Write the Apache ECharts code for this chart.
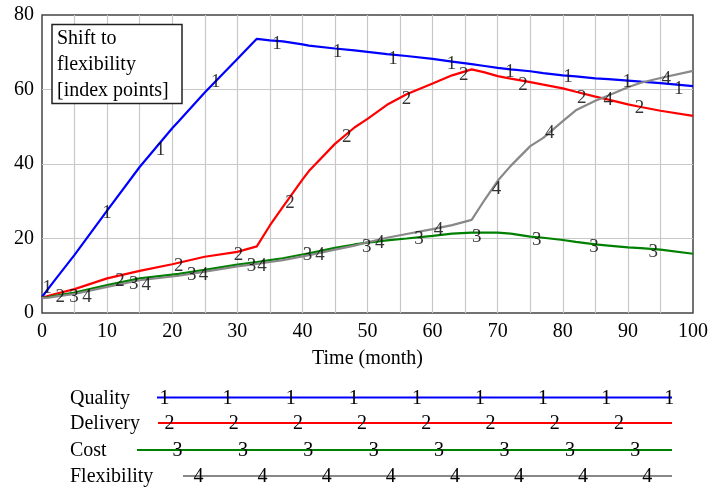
<!DOCTYPE html>
<html>
<head>
<meta charset="utf-8">
<script src="https://cdn.jsdelivr.net/npm/echarts@6/dist/echarts.min.js"></script>
<style>html,body{margin:0;padding:0;background:#fff;}#c{width:711px;height:489px;}</style>
</head>
<body>
<div id="c"></div>
<script>
// ---- data ----
var months = [0,1,2,5,10,15,20,21,25,30,33,35,37,40,41,45,48,50,53,56,60,63,66,68,70,72,75,77,80,82,85,87,90,92,95,100];
var quality = [4.3,6.6,8.9,15.6,27.5,39.2,49.6,51.5,59.2,68.2,73.6,73.2,72.9,72.1,71.8,71.0,70.5,70.1,69.5,69.0,68.2,67.5,66.8,66.3,65.8,65.4,64.9,64.4,63.8,63.5,63.0,62.8,62.4,62.1,61.7,60.9];
var delivery = [4.1,4.6,5.1,6.4,9.3,11.3,13.1,13.5,15.1,16.4,17.9,23.5,28.5,35.8,38.1,45.4,49.8,52.1,55.9,58.7,61.6,63.8,65.4,64.6,63.6,62.9,62.0,61.3,60.3,59.4,58.1,57.3,56.0,55.3,54.3,52.9];
var cost = [4.1,4.3,4.6,5.5,7.5,9.3,10.3,10.5,11.6,13.0,13.7,14.2,14.7,15.7,16.0,17.5,18.4,18.9,19.5,20.0,20.7,21.3,21.6,21.6,21.6,21.3,20.5,20.2,19.6,19.1,18.4,18.1,17.6,17.4,17.0,15.9];
var flexibility = [4.0,4.1,4.4,5.1,7.0,8.8,9.8,10.0,11.1,12.5,13.2,13.7,14.2,15.2,15.5,17.0,18.1,19.0,20.2,21.2,22.5,23.6,25.0,30.4,35.5,39.5,44.8,47.0,51.5,54.4,57.0,58.4,60.6,61.8,63.1,65.0];

// number markers drawn on the lines: [month, value]
var qualityMarks = [[0.8,6.7],[10.0,26.8],[18.2,43.7],[26.7,61.9],[36.1,72.2],[45.4,70.0],[53.9,68.2],[62.9,66.9],[71.9,64.6],[80.8,63.3],[89.9,62.0],[97.8,60.2]];
var deliveryMarks = [[2.8,4.4],[12.0,8.5],[21.0,12.5],[30.2,15.6],[38.1,29.4],[46.8,47.3],[56.0,57.5],[64.8,63.8],[73.9,61.1],[82.9,57.8],[91.8,55.1]];
var costMarks = [[4.9,4.4],[14.1,7.8],[23.0,10.2],[32.2,12.5],[40.8,15.6],[49.9,17.6],[57.9,19.8],[66.8,20.5],[76.0,19.6],[84.8,17.7],[93.9,16.5]];
var flexibilityMarks = [[6.9,4.4],[16.0,7.6],[24.8,10.2],[33.8,12.5],[42.7,15.6],[51.9,18.7],[60.9,22.3],[69.8,33.4],[78.0,48.2],[87.0,57.1],[95.9,62.9]];

var seriesNames = ['Quality','Delivery','Cost','Flexibility'];
var seriesIds = ['1','2','3','4'];
var xTicks = [0,10,20,30,40,50,60,70,80,90,100];
var yTicks = [0,20,40,60,80];
var boxTitle = 'Shift to\nflexibility\n[index points]';
var xTitle = 'Time (month)';

// ---- chart ----
var FONT = '"Liberation Serif","Times New Roman",serif';
var colors = ['#0000ff','#ff0000','#008000','#888888'];
var values = [quality, delivery, cost, flexibility];
var marks = [qualityMarks, deliveryMarks, costMarks, flexibilityMarks];

function pairs(xs, ys){ return xs.map(function(x,i){ return [x, ys[i]]; }); }

var series = [];
values.forEach(function(v, i){
  series.push({
    type:'line', name: seriesNames[i], data: pairs(months, v),
    showSymbol:false, symbol:'none', silent:true, animation:false,
    lineStyle:{color: colors[i], width: 2.2}, z: 2 + i
  });
});
marks.forEach(function(m, i){
  series.push({
    type:'scatter', data: m, symbolSize: 1, silent:true, animation:false,
    itemStyle:{color:'rgba(0,0,0,0)'}, z: 10,
    label:{show:true, position:'inside', formatter: seriesIds[i], color:'#000',
      fontFamily: FONT, fontSize: 19, align:'center', verticalAlign:'middle'}
  });
});

// legend rows drawn as graphics
var graphics = [];
var legendRows = [
  {y:397.5, x0:157, first:164.5, step:63.1, n:9},
  {y:423,   x0:158, first:169.5, step:64.2, n:8},
  {y:450,   x0:137, first:177.5, step:65.4, n:8},
  {y:476,   x0:183, first:198.5, step:64.1, n:8}
];
legendRows.forEach(function(r, i){
  graphics.push({type:'text', silent:true, x:70, y:r.y + 1,
    style:{text: seriesNames[i], fontFamily: FONT, fontSize:20, fill:'#000', align:'left', verticalAlign:'middle'}});
  graphics.push({type:'line', silent:true, shape:{x1:r.x0, y1:r.y, x2:672, y2:r.y},
    style:{stroke: colors[i], lineWidth:2.2}});
  for (var k=0;k<r.n;k++){
    graphics.push({type:'text', silent:true, x: r.first + k*r.step, y: r.y + 1,
      style:{text: seriesIds[i], fontFamily: FONT, fontSize:20, fill:'#000', align:'center', verticalAlign:'middle'}});
  }
});
graphics.push({type:'rect', silent:true, shape:{x:52, y:24.5, width:130, height:79},
  style:{fill:'#fff', stroke:'#222', lineWidth:1.5}, z:50});
graphics.push({type:'text', silent:true, x:57, y:25.5, z:51,
  style:{text: boxTitle, fontFamily: FONT, fontSize:20, lineHeight:26, fill:'#000'}});

var chart = echarts.init(document.getElementById('c'), null, {renderer:'canvas'});
chart.setOption({
  animation:false,
  backgroundColor:'#fff',
  grid:{left:42, right:18, top:15, bottom:176, show:true, borderColor:'#444', borderWidth:1.5, backgroundColor:'transparent'},
  xAxis:{type:'value', min:0, max:100, interval:5,
    name: xTitle, nameLocation:'middle', nameGap:36,
    nameTextStyle:{fontFamily:FONT, fontSize:20, color:'#000'},
    axisLine:{show:false}, axisTick:{show:false},
    axisLabel:{fontFamily:FONT, fontSize:20, color:'#000', margin:9,
      formatter:function(v){ return xTicks.indexOf(v) >= 0 ? String(v) : ''; }},
    splitLine:{show:true, showMinLine:false, showMaxLine:false, lineStyle:{color:'#c8c8c8', width:1.2}}},
  yAxis:{type:'value', min:0, max:80, interval:20,
    axisLine:{show:false}, axisTick:{show:false},
    axisLabel:{fontFamily:FONT, fontSize:20, color:'#000', margin:8,
      formatter:function(v){ return yTicks.indexOf(v) >= 0 ? String(v) : ''; }},
    splitLine:{show:true, showMinLine:false, showMaxLine:false, lineStyle:{color:'#c8c8c8', width:1.2}}},
  series: series,
  graphic: graphics
});
</script>
</body>
</html>
